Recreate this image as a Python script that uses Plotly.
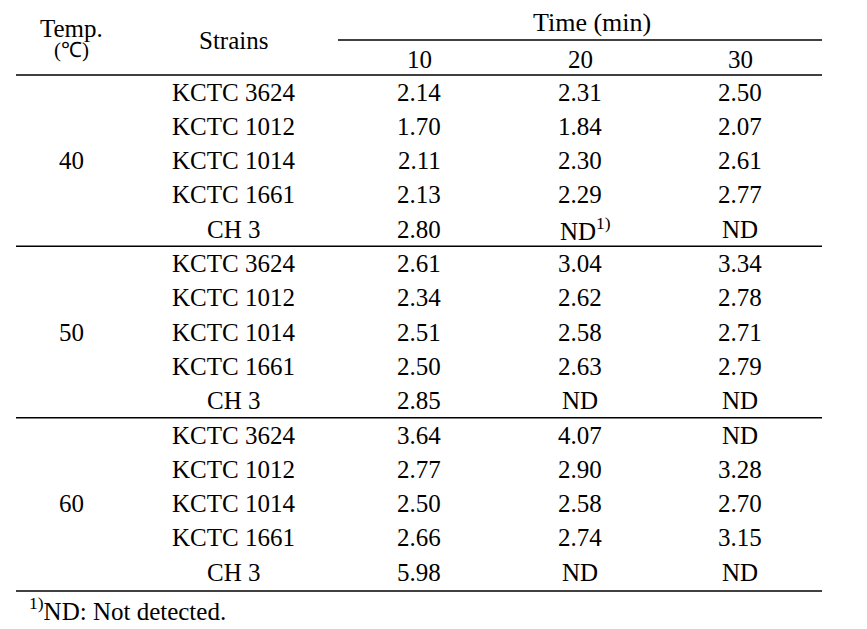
import plotly.graph_objects as go

# ---- data ----
temps = ["40", "50", "60"]
strains = ["KCTC 3624", "KCTC 1012", "KCTC 1014", "KCTC 1661", "CH 3"]
times = ["10", "20", "30"]
t10 = ["2.14", "1.70", "2.11", "2.13", "2.80",
       "2.61", "2.34", "2.51", "2.50", "2.85",
       "3.64", "2.77", "2.50", "2.66", "5.98"]
t20 = ["2.31", "1.84", "2.30", "2.29", "ND<sup>1)</sup>",
       "3.04", "2.62", "2.58", "2.63", "ND",
       "4.07", "2.90", "2.58", "2.74", "ND"]
t30 = ["2.50", "2.07", "2.61", "2.77", "ND",
       "3.34", "2.78", "2.71", "2.79", "ND",
       "ND", "3.28", "2.70", "3.15", "ND"]
footnote = "<sup>1)</sup>ND: Not detected."

# ---- layout constants ----
W, H = 867, 629
OFF = 8  # page body margin
FONT = "Liberation Serif"
FS = 25
col_temp, col_strain = 71, 233
col_times = [419, 580, 740]
row0, row_step = 92, 34.3
x_left, x_right, x_sub = 16, 822, 338

n_rows = len(t10)
row_y = [row0 + row_step * i for i in range(n_rows)]
strain_col = strains * len(temps)
temp_y = [row_y[i * len(strains) + len(strains) // 2] for i in range(len(temps))]

fig = go.Figure()
# invisible trace so the axes exist
fig.add_trace(go.Scatter(x=[OFF, W + OFF], y=[OFF, H + OFF], mode="markers",
                         marker=dict(opacity=0), hoverinfo="skip", showlegend=False))

def label(x, y, text, anchor="center", size=FS):
    shift = 5 if (anchor == "center" and "<sup>" in text) else 0
    fig.add_annotation(x=x, y=y, text=text, showarrow=False, xanchor=anchor,
                       yanchor="middle", xref="x", yref="y", xshift=shift,
                       font=dict(family=FONT, size=size, color="black"))

for t, y in zip(temps, temp_y):
    label(col_temp, y, t)
for s, y in zip(strain_col, row_y):
    label(col_strain, y, s)
for cx, vals in zip(col_times, [t10, t20, t30]):
    for v, y in zip(vals, row_y):
        label(cx, y, v)

# header
for cx, t in zip(col_times, times):
    label(cx, 59, t)
label(592, 22, "Time (min)", size=26)
label(col_strain, 40, "Strains")
label(col_temp, 28, "Temp.", size=25)
label(col_temp, 50, "(℃)", size=21)

# rules
lw = 1.5
def hline(y, x0=x_left, x1=x_right):
    fig.add_shape(type="line", x0=x0, x1=x1, y0=y, y1=y, xref="x", yref="y",
                  line=dict(color="black", width=lw))

hline(7)
hline(40, x_sub)
hline(75)
for g in range(1, len(temps)):
    yb = (row_y[g * len(strains) - 1] + row_y[g * len(strains)]) / 2
    hline(yb)
hline(591)

label(27, 609, footnote, anchor="left")

fig.update_layout(width=W, height=H, margin=dict(l=0, r=0, t=0, b=0),
                  paper_bgcolor="white", plot_bgcolor="white",
                  xaxis=dict(range=[OFF, W + OFF], visible=False, fixedrange=True),
                  yaxis=dict(range=[H + OFF, OFF], visible=False, fixedrange=True))
fig.write_html("out.html")
